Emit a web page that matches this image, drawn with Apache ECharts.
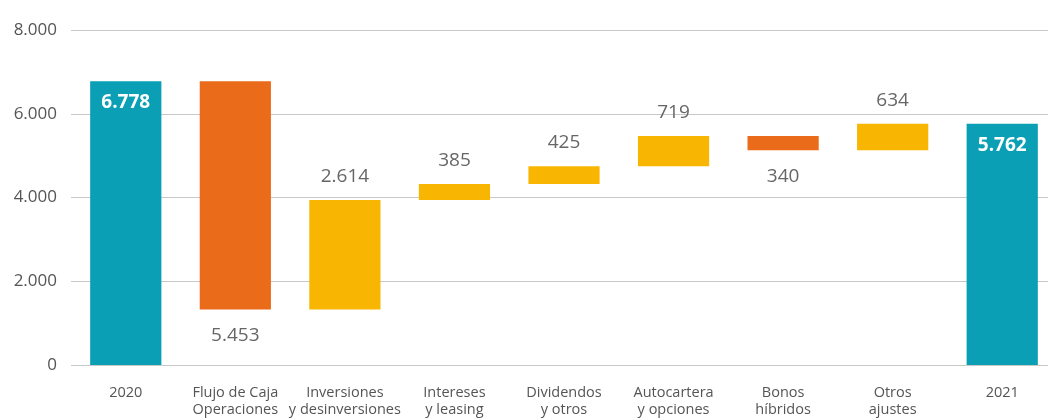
<!DOCTYPE html>
<html>
<head>
<meta charset="utf-8">
<script src="https://cdn.jsdelivr.net/npm/echarts@6/dist/echarts.min.js"></script>
<style>
  html, body { margin: 0; padding: 0; background: #fff; }
  #chart { width: 1048px; height: 419px; }
</style>
</head>
<body>
<div id="chart"></div>
<script>
var categorias = ['2020', 'Flujo de Caja\nOperaciones', 'Inversiones\ny desinversiones', 'Intereses\ny leasing',
  'Dividendos\ny otros', 'Autocartera\ny opciones', 'Bonos\nhíbridos', 'Otros\najustes', '2021'];
var valores = [6778, -5453, 2614, 385, 425, 719, -340, 634, 5762];
var tipos = ['total', 'baja', 'sube', 'sube', 'sube', 'sube', 'baja', 'sube', 'total'];
var ticksY = [0, 2000, 4000, 6000, 8000];

var colores = { total: '#0a9fb4', baja: '#ea6b1a', sube: '#f8b602' };

function fmt(n) {
  return String(Math.abs(n)).replace(/\B(?=(\d{3})+(?!\d))/g, '.');
}

// base invisible + barra visible
var base = [], barras = [];
var acum = 0;
for (var i = 0; i < valores.length; i++) {
  var v = valores[i];
  var t = tipos[i];
  var lab;
  if (t === 'total') {
    base.push(0);
    acum = v;
    lab = { show: true, position: 'insideTop', distance: 12, color: '#fff', fontWeight: 'bold', fontSize: 19 };
    barras.push({ value: v, itemStyle: { color: colores.total }, label: lab });
  } else if (v < 0) {
    acum = acum + v;
    base.push(acum);
    lab = { show: true, position: 'bottom', distance: 17 };
    barras.push({ value: -v, itemStyle: { color: colores.baja }, label: lab });
  } else {
    base.push(acum);
    acum = acum + v;
    lab = { show: true, position: 'top', distance: 14 };
    barras.push({ value: v, itemStyle: { color: colores.sube }, label: lab });
  }
}

var chart = echarts.init(document.getElementById('chart'));
chart.setOption({
  animation: false,
  textStyle: { fontFamily: 'Open Sans' },
  grid: { left: 71, width: 986, top: 30, bottom: 54, containLabel: false, outerBoundsMode: 'none' },
  xAxis: {
    type: 'category',
    data: categorias,
    axisLine: { show: false },
    axisTick: { show: false },
    axisLabel: { color: '#555', fontSize: 14.5, lineHeight: 17, margin: 19, interval: 0 }
  },
  yAxis: {
    type: 'value',
    min: ticksY[0],
    max: ticksY[ticksY.length - 1],
    interval: 2000,
    axisLine: { show: false },
    axisTick: { show: false },
    axisLabel: { color: '#555', fontSize: 17, margin: 14, formatter: function (v) { return fmt(v); } },
    splitLine: { lineStyle: { color: '#c8c8c8', width: 1 } }
  },
  series: [
    {
      type: 'bar',
      stack: 'w',
      data: base,
      barWidth: '65%',
      itemStyle: { color: 'transparent' },
      silent: true
    },
    {
      type: 'bar',
      stack: 'w',
      data: barras,
      barWidth: '65%',
      label: {
        color: '#666',
        fontSize: 19,
        formatter: function (p) { return fmt(p.value); }
      }
    }
  ]
});
</script>
</body>
</html>
